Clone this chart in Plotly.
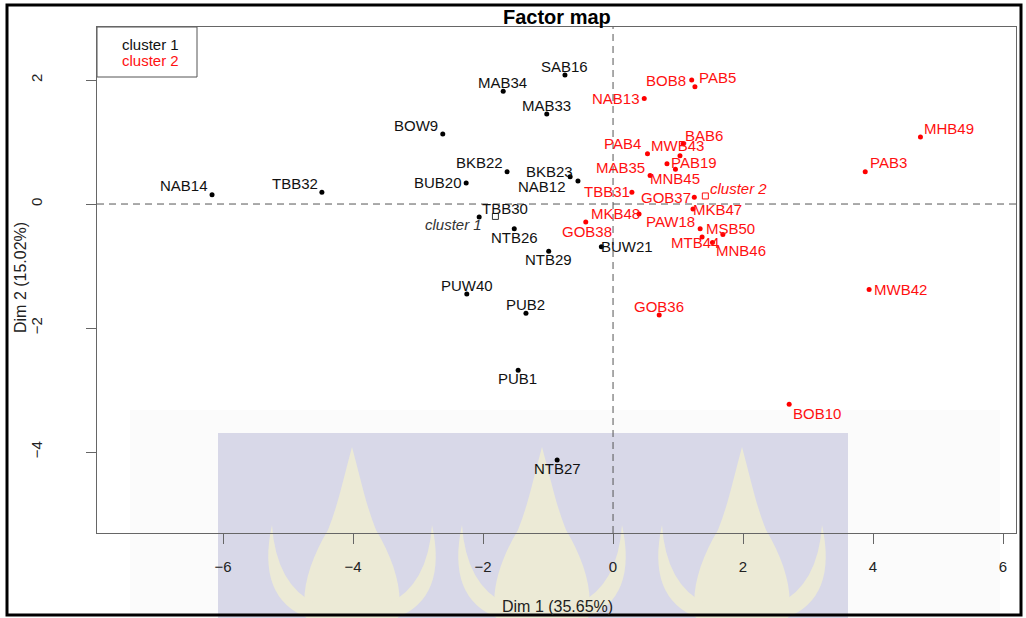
import plotly.graph_objects as go

# ---------------- data ----------------
c1_names = ["SAB16", "MAB34", "MAB33", "BOW9", "BKB22", "BUB20", "BKB23", "NAB12",
            "NAB14", "TBB32", "TBB30", "NTB26", "NTB29", "BUW21", "PUW40", "PUB2",
            "PUB1", "NTB27"]
c1_dim1 = [-0.74, -1.69, -1.02, -2.62, -1.63, -2.26, -0.66, -0.54,
           -6.17, -4.48, -2.06, -1.52, -0.99, -0.18, -2.25, -1.34,
           -1.46, -0.86]
c1_dim2 = [2.08, 1.82, 1.45, 1.13, 0.52, 0.34, 0.44, 0.37,
           0.15, 0.19, -0.21, -0.40, -0.76, -0.69, -1.45, -1.76,
           -2.68, -4.13]

c2_names = ["BOB8", "PAB5", "NAB13", "MHB49", "PAB3", "PAB4", "MWB43", "BAB6",
            "PAB19", "MAB35", "MNB45", "TBB31", "GOB37", "MKB47", "MKB48", "GOB38",
            "PAW18", "MSB50", "MTB44", "MNB46", "GOB36", "MWB42", "BOB10"]
c2_dim1 = [1.21, 1.26, 0.48, 4.73, 3.88, 0.53, 1.03, 1.08,
           0.83, 0.57, 0.96, 0.29, 1.25, 1.23, 0.40, -0.42,
           1.34, 1.69, 1.37, 1.53, 0.71, 3.94, 2.71]
c2_dim2 = [2.00, 1.89, 1.70, 1.08, 0.52, 0.81, 0.78, 0.97,
           0.65, 0.46, 0.56, 0.19, 0.11, -0.08, -0.16, -0.29,
           -0.40, -0.49, -0.53, -0.62, -1.79, -1.38, -3.23]

center_names = ["cluster 1", "cluster 2"]
center_dim1 = [-1.81, 1.42]
center_dim2 = [-0.20, 0.13]

x_ticks = [-6, -4, -2, 0, 2, 4, 6]
y_ticks = [-4, -2, 0, 2]

# ---------------- label placement (pixel offsets, style only) ----------------
label_shift = {
    "SAB16": (0, -9), "MAB34": (-1, -9), "MAB33": (0, -9), "BOW9": (-27, -8),
    "BKB22": (-28, -9), "BUB20": (-28, 0), "BKB23": (-21, -5), "NAB12": (-36, 5),
    "NAB14": (-28, -9), "TBB32": (-27, -9), "TBB30": (26, -9), "NTB26": (0, 9),
    "NTB29": (0, 8), "BUW21": (26, 0), "PUW40": (0, -8), "PUB2": (0, -9),
    "PUB1": (-1, 8), "NTB27": (0, 8),
    "BOB8": (-26, 0), "PAB5": (23, -9), "NAB13": (-28, 0), "MHB49": (29, -9),
    "PAB3": (23, -9), "PAB4": (-25, -10), "MWB43": (-2, -10), "BAB6": (21, -8),
    "PAB19": (27, -1), "MAB35": (-30, -8), "MNB45": (0, 9), "TBB31": (-25, -1),
    "GOB37": (-28, 0), "MKB47": (25, 1), "MKB48": (-24, 0), "GOB38": (1, 9),
    "PAW18": (-30, -7), "MSB50": (8, -6), "MTB44": (-7, 6), "MNB46": (29, 8),
    "GOB36": (0, -9), "MWB42": (31, 0), "BOB10": (28, 9),
    "cluster 1": (-42, 8), "cluster 2": (33, -7),
}

# ---------------- geometry ----------------
W, H = 1026, 618
L, R, T, B = 97, 1016, 27, 533
XR = [-7.94, 6.20]
YR = [-5.306, 2.855]
FONT = "Liberation Sans, Arial, Helvetica, sans-serif"
BLACK = "#111111"
RED = "#ff1010"


def px(x):
    return (x - L) / (R - L)


def py(y):
    return (B - y) / (B - T)


fig = go.Figure()

fig.add_trace(go.Scatter(x=c1_dim1, y=c1_dim2, mode="markers",
                         marker=dict(color="black", size=5), hoverinfo="text",
                         text=c1_names, showlegend=False))
fig.add_trace(go.Scatter(x=c2_dim1, y=c2_dim2, mode="markers",
                         marker=dict(color="red", size=5), hoverinfo="text",
                         text=c2_names, showlegend=False))
fig.add_trace(go.Scatter(x=center_dim1, y=center_dim2, mode="markers",
                         marker=dict(color=["#333333", RED], size=6, symbol="square-open",
                                     line=dict(width=1)),
                         hoverinfo="text", text=center_names, showlegend=False))

annotations = []
for names, xs, ys, col in [(c1_names, c1_dim1, c1_dim2, BLACK),
                           (c2_names, c2_dim1, c2_dim2, RED)]:
    for n, xv, yv in zip(names, xs, ys):
        dx, dy = label_shift[n]
        annotations.append(dict(x=xv, y=yv, text=n, showarrow=False, xshift=dx, yshift=-dy,
                                xanchor="center", yanchor="middle",
                                font=dict(family=FONT, size=15, color=col)))
for n, xv, yv, col in zip(center_names, center_dim1, center_dim2, ["#333333", RED]):
    dx, dy = label_shift[n]
    annotations.append(dict(x=xv, y=yv, text="<i>" + n + "</i>", showarrow=False,
                            xshift=dx, yshift=-dy, xanchor="center", yanchor="middle",
                            font=dict(family=FONT, size=15, color=col)))


def paper_text(x, y, text, size=15, color="#222", xanchor="center", angle=0):
    return dict(xref="paper", yref="paper", x=px(x), y=py(y), text=text, showarrow=False,
                xanchor=xanchor, yanchor="middle", textangle=angle,
                font=dict(family=FONT, size=size, color=color))


annotations.append(paper_text(557, 17, "<b>Factor map</b>", size=20, color="black"))
annotations.append(paper_text(557, 606, "Dim 1 (35.65%)", size=16))
annotations.append(paper_text(20, 278, "Dim 2 (15.02%)", size=16, angle=-90))
annotations.append(paper_text(181, 44, "cluster 1", color=BLACK, xanchor="right"))
annotations.append(paper_text(181, 61, "cluster 2", color=RED, xanchor="right"))

shapes = []


def path_from(points):
    s = ""
    for cmd, pts in points:
        s += cmd + " " + " ".join("%.5f,%.5f" % (px(a), py(b)) for a, b in pts) + " "
    return s + "Z"


# watermark background
shapes.append(dict(type="rect", xref="paper", yref="paper", layer="below",
                   x0=px(130), x1=px(1000), y0=py(618), y1=py(410),
                   fillcolor="rgb(251,251,251)", line=dict(width=0)))
shapes.append(dict(type="rect", xref="paper", yref="paper", layer="below",
                   x0=px(218), x1=px(848), y0=py(618), y1=py(433),
                   fillcolor="rgb(216,216,232)", line=dict(width=0)))
FLAME = "rgb(236,234,214)"
for cx in [352, 542, 742]:
    body = [("M", [(cx, 447)]),
            ("C", [(cx + 9, 480), (cx + 14, 505), (cx + 24, 530)]),
            ("C", [(cx + 42, 560), (cx + 52, 592), (cx + 46, 618)]),
            ("L", [(cx - 46, 618)]),
            ("C", [(cx - 52, 592), (cx - 42, 560), (cx - 24, 530)]),
            ("C", [(cx - 14, 505), (cx - 9, 480), (cx, 447)])]
    shapes.append(dict(type="path", xref="paper", yref="paper", layer="below",
                       path=path_from(body), fillcolor=FLAME, line=dict(width=0)))
    for sgn in (1, -1):
        leaf = [("M", [(cx + sgn * 44, 618)]),
                ("Q", [(cx + sgn * 96, 598), (cx + sgn * 80, 525)]),
                ("Q", [(cx + sgn * 76, 585), (cx + sgn * 36, 604)])]
        shapes.append(dict(type="path", xref="paper", yref="paper", layer="below",
                           path=path_from(leaf), fillcolor=FLAME, line=dict(width=0)))

# dashed reference lines
shapes.append(dict(type="line", xref="x", yref="paper", x0=0, x1=0, y0=0, y1=1,
                   line=dict(color="#555", width=1, dash="7px,5px")))
shapes.append(dict(type="line", xref="paper", yref="y", x0=0, x1=1, y0=0, y1=0,
                   line=dict(color="#555", width=1, dash="7px,5px")))
# legend box
shapes.append(dict(type="rect", xref="paper", yref="paper", x0=px(97), x1=px(197),
                   y0=py(77), y1=py(27), line=dict(color="#555", width=1),
                   fillcolor="white", layer="below"))
# outer frame
shapes.append(dict(type="rect", xref="paper", yref="paper", x0=px(7), x1=px(1021),
                   y0=py(615), y1=py(5), line=dict(color="black", width=3)))

axis_common = dict(showgrid=False, zeroline=False, showline=True, mirror=True,
                   linecolor="#666", linewidth=1, ticks="outside", ticklen=10,
                   tickcolor="#666", tickwidth=1,
                   tickfont=dict(family=FONT, size=15, color="#222"))

fig.update_layout(
    width=W, height=H,
    margin=dict(l=L, r=W - R, t=T, b=H - B, pad=0),
    paper_bgcolor="white", plot_bgcolor="rgba(0,0,0,0)",
    xaxis=dict(range=XR, tickvals=x_ticks, ticklabelstandoff=10, **axis_common),
    yaxis=dict(range=YR, tickvals=y_ticks, tickangle=-90, ticklabelstandoff=38, **axis_common),
    annotations=annotations, shapes=shapes, showlegend=False,
)

fig.write_html("out.html")
